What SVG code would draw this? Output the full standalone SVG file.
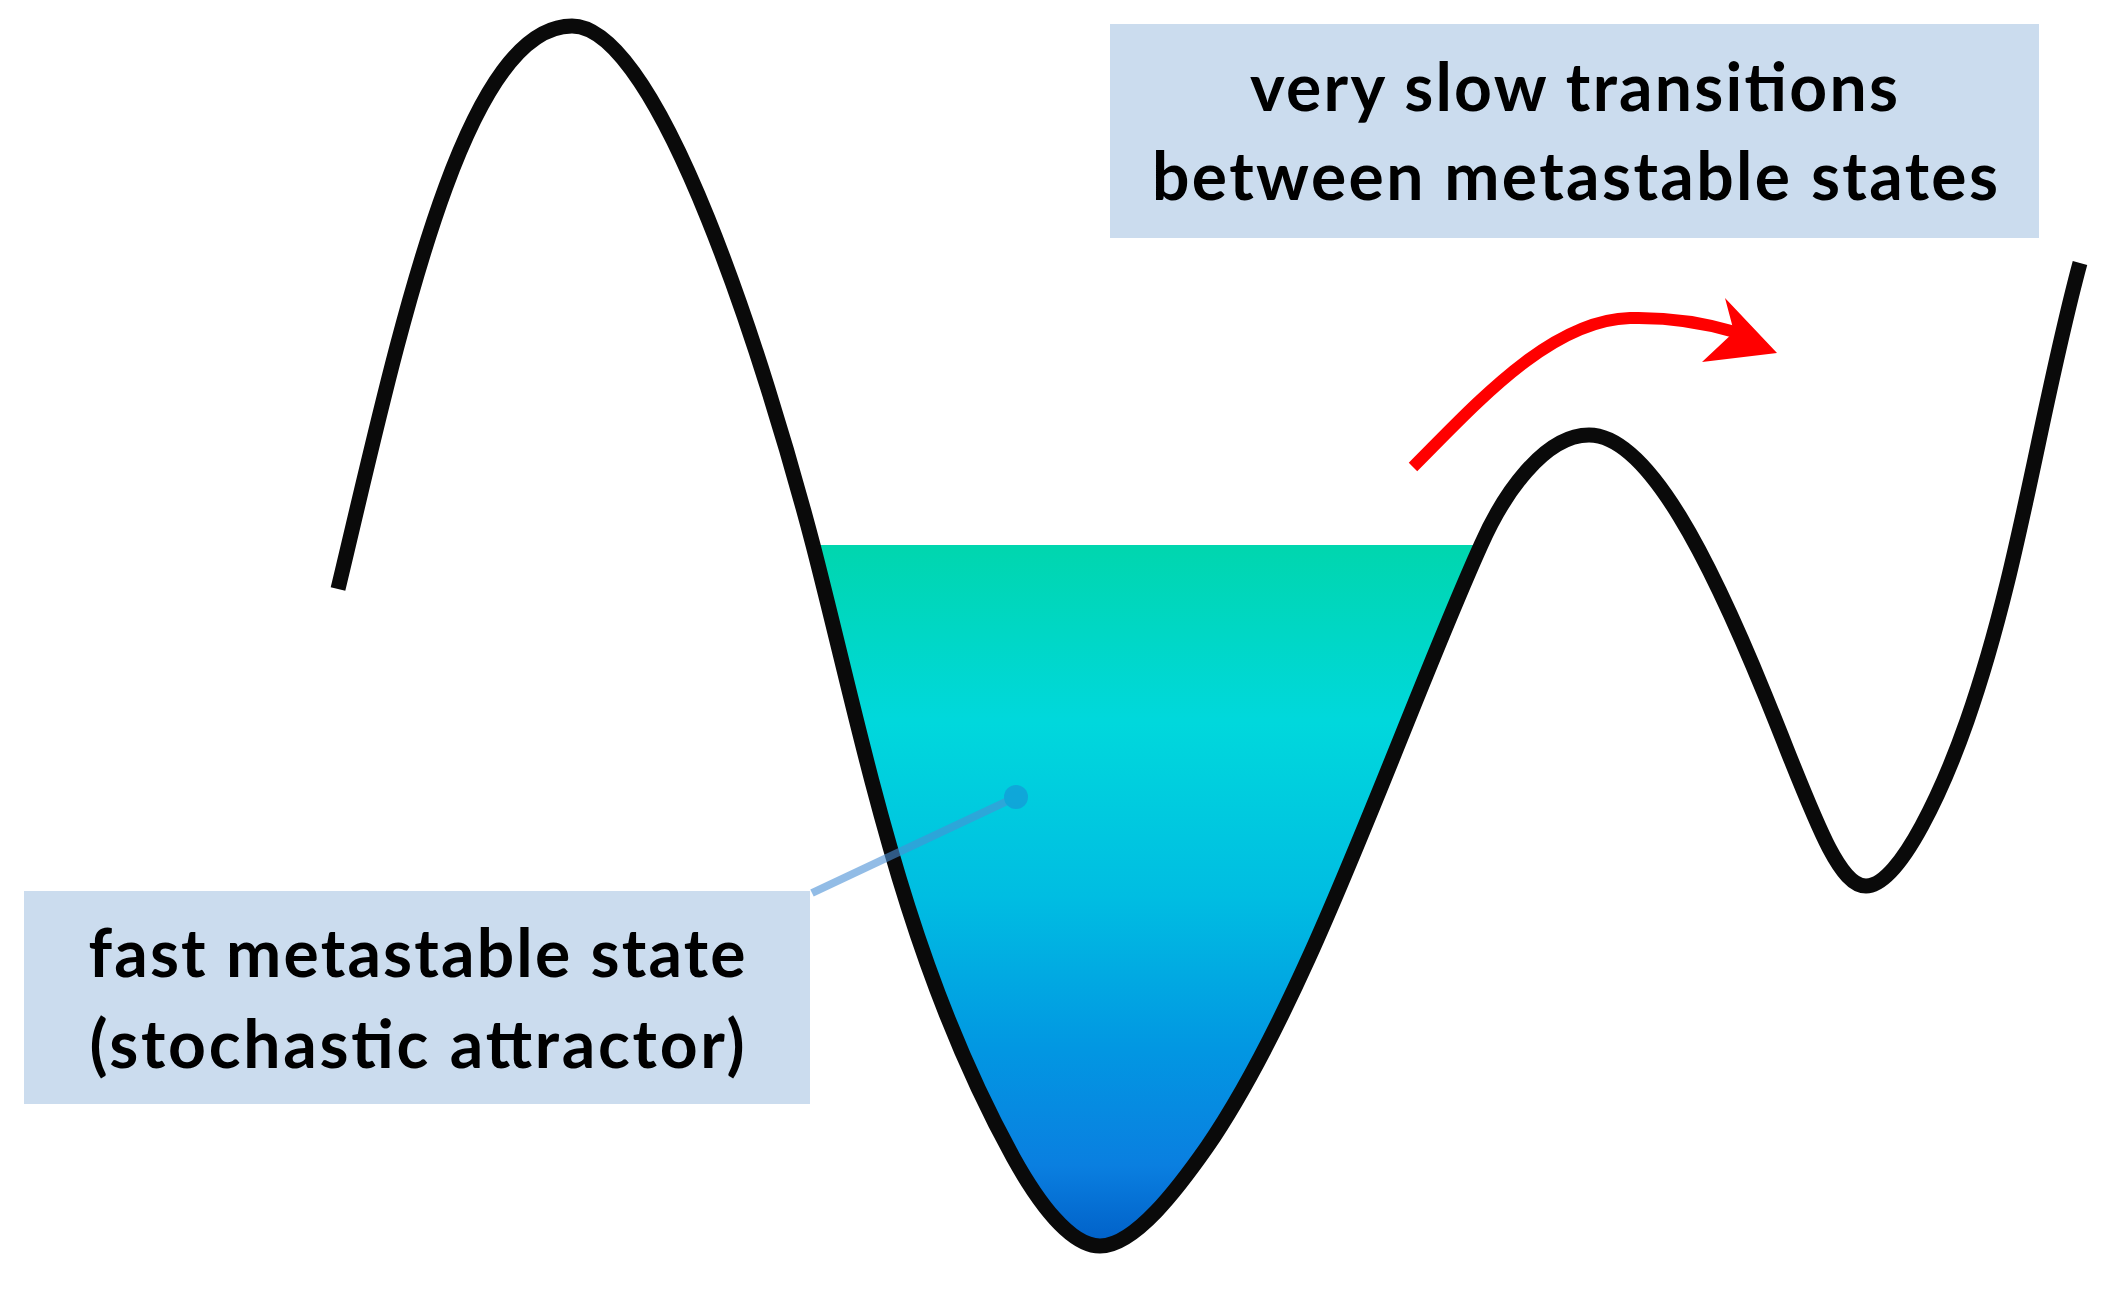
<svg xmlns="http://www.w3.org/2000/svg" width="2117" height="1295" viewBox="0 0 2117 1295">
<defs>
<style>
.box{fill:#cbdcee}
.lbl{font-family:Lato,"Open Sans","Liberation Sans",sans-serif;font-weight:700;font-size:66px;fill:#000;text-anchor:middle}
.curve{fill:none;stroke:#0a0a0a;stroke-width:15;stroke-linecap:butt;stroke-linejoin:round}
</style>
<linearGradient id="water" gradientUnits="userSpaceOnUse" x1="0" y1="545" x2="0" y2="1250">
<stop offset="0" stop-color="#00d6ae"/>
<stop offset="0.25" stop-color="#00d8dc"/>
<stop offset="0.5" stop-color="#00bde2"/>
<stop offset="0.72" stop-color="#0296e2"/>
<stop offset="0.88" stop-color="#0a7fe0"/>
<stop offset="1" stop-color="#005ec6"/>
</linearGradient>
</defs>
<rect width="2117" height="1295" fill="#fff"/>

<g id="water-well">
<path fill="url(#water)" d="M813,545 C865,746 903,957 1013,1157 C1038,1202 1070,1246 1100,1246 C1135,1246 1179,1187 1207,1147 C1310,997 1400,725 1481,545 Z"/>
</g>

<g id="landscape">
<path class="curve" d="M338,589 C398,339 462,26 572,26 C660,26 766,366 813,545 C865,746 903,957 1013,1157 C1038,1202 1070,1246 1100,1246 C1135,1246 1179,1187 1207,1147 C1310,997 1400,725 1481,545 C1503,495 1544,435 1589,435 C1649,435 1712,565 1765,695 C1810,805 1836,886 1866,886 C1901,886 1946,781 1967,721 C2019.5,571 2039.5,413 2080,263"/>
</g>

<g id="label-slow">
<rect class="box" x="1110" y="24" width="929" height="214"/>
<text class="lbl" x="1574" y="111" textLength="648">very slow transitions</text>
<text class="lbl" x="1575" y="200" textLength="846">between metastable states</text>
</g>

<g id="label-fast">
<rect class="box" x="24" y="891" width="786" height="213"/>
<text class="lbl" x="417" y="977" textLength="657">fast metastable state</text>
<text class="lbl" x="417" y="1068" textLength="655">(stochastic attractor)</text>
</g>

<g id="connectors">
<g id="pointer" opacity="0.6">
<line x1="812" y1="893" x2="1016" y2="797" stroke="#4a90d6" stroke-width="8"/>
<circle cx="1016" cy="797" r="12" fill="#1a8fd6"/>
</g>
<g id="transition-arrow">
<path d="M1413,467 C1475,405 1550,320 1630,318 C1670,317 1705,323 1735,332" fill="none" stroke="#ff0000" stroke-width="12"/>
<polygon points="1777,353 1725,298 1734,332 1702,362" fill="#ff0000"/>
</g>
</g>
</svg>
